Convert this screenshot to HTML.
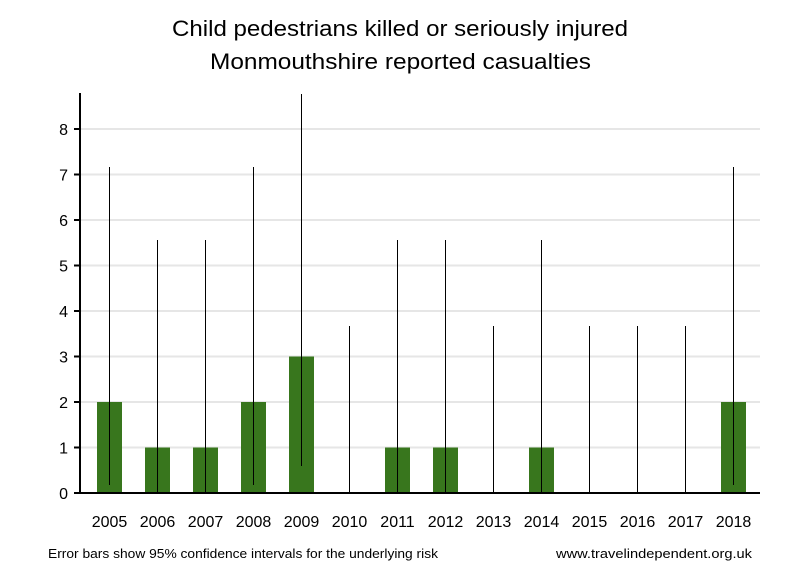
<!DOCTYPE html>
<html><head><meta charset="utf-8"><style>body{margin:0;background:#fff}svg{display:block}</style></head><body>
<svg width="800" height="580" xmlns="http://www.w3.org/2000/svg" font-family="Liberation Sans, DejaVu Sans, sans-serif">
<rect width="800" height="580" fill="#fff"/>
<text x="172" y="36" font-size="22" textLength="456" lengthAdjust="spacingAndGlyphs">Child pedestrians killed or seriously injured</text>
<text x="210" y="69" font-size="22" textLength="381" lengthAdjust="spacingAndGlyphs">Monmouthshire reported casualties</text>
<g stroke="#e6e6e6" stroke-width="2">
<line x1="81" x2="760" y1="447.5" y2="447.5"/><line x1="81" x2="760" y1="402" y2="402"/>
<line x1="81" x2="760" y1="356.5" y2="356.5"/><line x1="81" x2="760" y1="311" y2="311"/>
<line x1="81" x2="760" y1="265.5" y2="265.5"/><line x1="81" x2="760" y1="220" y2="220"/>
<line x1="81" x2="760" y1="174.5" y2="174.5"/><line x1="81" x2="760" y1="129" y2="129"/>
</g>
<g fill="#38761d">
<rect x="97" y="402" width="25" height="91"/>
<rect x="145" y="447.5" width="25" height="45.5"/>
<rect x="193" y="447.5" width="25" height="45.5"/>
<rect x="241" y="402" width="25" height="91"/>
<rect x="289" y="356.5" width="25" height="136.5"/>
<rect x="385" y="447.5" width="25" height="45.5"/>
<rect x="433" y="447.5" width="25" height="45.5"/>
<rect x="529" y="447.5" width="25" height="45.5"/>
<rect x="721" y="402" width="25" height="91"/>
</g>
<g stroke="#000" stroke-width="1">
<line x1="109.5" x2="109.5" y1="167" y2="485"/>
<line x1="157.5" x2="157.5" y1="240" y2="493"/>
<line x1="205.5" x2="205.5" y1="240" y2="493"/>
<line x1="253.5" x2="253.5" y1="167" y2="485"/>
<line x1="301.5" x2="301.5" y1="94" y2="466"/>
<line x1="349.5" x2="349.5" y1="326" y2="493"/>
<line x1="397.5" x2="397.5" y1="240" y2="493"/>
<line x1="445.5" x2="445.5" y1="240" y2="493"/>
<line x1="493.5" x2="493.5" y1="326" y2="493"/>
<line x1="541.5" x2="541.5" y1="240" y2="493"/>
<line x1="589.5" x2="589.5" y1="326" y2="493"/>
<line x1="637.5" x2="637.5" y1="326" y2="493"/>
<line x1="685.5" x2="685.5" y1="326" y2="493"/>
<line x1="733.5" x2="733.5" y1="167" y2="485"/>
</g>
<g stroke="#000" stroke-width="2">
<line x1="80" x2="80" y1="93" y2="494"/>
<line x1="79" x2="760" y1="493" y2="493"/>
<line x1="74" x2="80" y1="493" y2="493"/><line x1="74" x2="80" y1="447.5" y2="447.5"/>
<line x1="74" x2="80" y1="402" y2="402"/><line x1="74" x2="80" y1="356.5" y2="356.5"/>
<line x1="74" x2="80" y1="311" y2="311"/><line x1="74" x2="80" y1="265.5" y2="265.5"/>
<line x1="74" x2="80" y1="220" y2="220"/><line x1="74" x2="80" y1="174.5" y2="174.5"/>
<line x1="74" x2="80" y1="129" y2="129"/>
</g>
<g font-size="16" text-anchor="end">
<text x="68" y="499">0</text><text x="68" y="453.5">1</text><text x="68" y="408">2</text>
<text x="68" y="362.5">3</text><text x="68" y="317">4</text><text x="68" y="271.5">5</text>
<text x="68" y="226">6</text><text x="68" y="180.5">7</text><text x="68" y="135">8</text>
</g>
<g font-size="16" text-anchor="middle">
<text x="109.5" y="527">2005</text><text x="157.5" y="527">2006</text><text x="205.5" y="527">2007</text>
<text x="253.5" y="527">2008</text><text x="301.5" y="527">2009</text><text x="349.5" y="527">2010</text>
<text x="397.5" y="527">2011</text><text x="445.5" y="527">2012</text><text x="493.5" y="527">2013</text>
<text x="541.5" y="527">2014</text><text x="589.5" y="527">2015</text><text x="637.5" y="527">2016</text>
<text x="685.5" y="527">2017</text><text x="733.5" y="527">2018</text>
</g>
<text x="48" y="558" font-size="12.5" textLength="390" lengthAdjust="spacingAndGlyphs">Error bars show 95% confidence intervals for the underlying risk</text>
<text x="556" y="558" font-size="12.5" textLength="196" lengthAdjust="spacingAndGlyphs">www.travelindependent.org.uk</text>
</svg>
</body></html>
